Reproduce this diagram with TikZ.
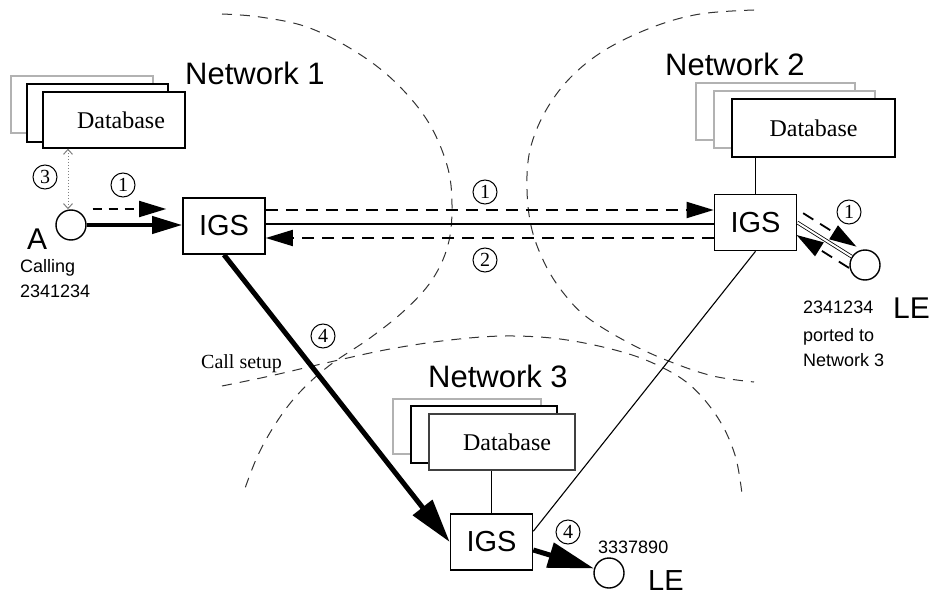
\documentclass[tikz,border=0pt]{standalone}
\usepackage{fontspec}
\setmainfont{Liberation Sans}
\newfontfamily\dbfont{Liberation Serif}
\usetikzlibrary{arrows.meta,calc}
\begin{document}
\begin{tikzpicture}[x=1pt,y=-1pt,
  igs/.style={draw, line width=1.6pt, fill=white, minimum width=82pt, minimum height=56pt, inner sep=0pt, font=\fontsize{29}{29}\selectfont},
  station/.style={circle, draw, line width=1.4pt, fill=white, minimum size=30pt, inner sep=0pt},
  dbbox/.style={draw, line width=1.3pt, fill=white, inner sep=0pt, font=\dbfont\fontsize{24}{24}\selectfont},
  dbback/.style={draw=gray!60, line width=1.3pt, fill=white},
  dbmid/.style={draw=black, line width=1.3pt, fill=white},
  num/.style={circle, draw, line width=1pt, minimum size=24pt, inner sep=0pt, font=\dbfont\fontsize{20}{20}\selectfont},
  netlbl/.style={anchor=base west, inner sep=0pt, font=\fontsize{31}{31}\selectfont},
  small/.style={anchor=base west, inner sep=0pt, font=\fontsize{18}{18}\selectfont},
  big/.style={anchor=base west, inner sep=0pt, font=\fontsize{30}{30}\selectfont},
  boundary/.style={black!80, line width=1pt, dash pattern=on 10pt off 8pt},
  msg/.style={line width=1.8pt, dash pattern=on 12pt off 8pt},
  head/.style={-{Triangle[length=27pt,width=16pt]}},
  link/.style={line width=1.5pt},
  thinlink/.style={line width=1.1pt},
  callpath/.style={line width=5pt, -{Triangle[length=44pt,width=24pt]}}
]
\useasboundingbox (0,0) rectangle (931,596);

% network boundaries
\draw[boundary] plot[smooth, tension=0.6] coordinates {(222,14) (260,17) (307,27) (353,50) (393,80) (427,120) (447,165) (452,205) (448,245) (432,280) (405,310) (370,338) (330,365) (300,392) (278,420) (258,455) (243,494)};
\draw[boundary] plot[smooth, tension=0.6] coordinates {(754,10) (700,14) (653,27) (605,50) (570,78) (545,112) (530,150) (527,190) (532,230) (546,266) (565,295) (588,318) (629,343) (671,362) (713,376) (754,382)};
\draw[boundary] plot[smooth, tension=0.6] coordinates {(222,386) (270,376) (330,362) (390,349) (450,340) (505,336) (560,339) (615,350) (655,364) (690,385) (718,418) (735,455) (742,494)};

% network labels
\node[netlbl] (net1) at (185,85) {Network 1};
\node[netlbl] (net2) at (665,76) {Network 2};
\node[netlbl] (net3) at (428,387) {Network 3};

% databases
\draw[dbback] (11,76) rectangle (153,133);
\draw[dbmid] (27,84) rectangle (168,142);
\node[dbbox, minimum width=142pt, minimum height=56pt] (db1) at (114,120) {\hspace*{14pt}Database};

\draw[dbback] (696,83) rectangle (855,140);
\draw[dbback] (714,91) rectangle (875,148);
\node[dbbox, minimum width=163pt, minimum height=58pt] (db2) at (813.5,128) {Database};

\draw[dbback] (393,399) rectangle (541,454);
\draw[dbmid] (411,406) rectangle (557,463);
\node[dbbox, draw=black!75, minimum width=146pt, minimum height=56pt] (db3) at (502,442) {\hspace*{10pt}Database};

% switches and stations
\node[igs] (IGS1) at (224,226) {IGS};
\node[igs] (IGS2) at (755.5,222.5) {IGS};
\node[igs] (IGS3) at (491.5,542) {IGS};
\node[station] (A) at (71,225) {};
\node[station] (LE2) at (865,265) {};
\node[station] (LE3) at (609,573) {};

% station texts
\node[big] (lblA) at (27,249) {A};
\node[small] (calling) at (20,272) {Calling};
\node[small] (numA) at (20,297) {2341234};
\node[small] (numB) at (803,313) {2341234};
\node[small] (ported) at (803,341) {ported to};
\node[small] (portnet) at (803,366) {Network 3};
\node[big] (le2lbl) at (893,318) {LE};
\node[big, font=\fontsize{29}{29}\selectfont] (le3lbl) at (648,590) {LE};
\node[small] (numC) at (598,553) {3337890};
\node[anchor=base west, inner sep=0pt, font=\dbfont\fontsize{20}{20}\selectfont] (setup) at (201,368) {Call setup};

% connectors
\draw[gray, line width=1pt, dash pattern=on 1.5pt off 1.5pt, {Straight Barb[length=5pt,width=9pt]}-{Straight Barb[length=5pt,width=9pt]}] ([xshift=-3pt]A.north |- db1.south) -- ([xshift=-3pt]A.north);
\draw[msg, head, dash pattern=on 9pt off 7pt] ([xshift=6pt,yshift=16pt]A.east) -- ([xshift=-16pt,yshift=17pt]IGS1.west);
\draw[line width=4pt, -{Triangle[length=30pt,width=17pt]}] (A.east) -- (A.east -| IGS1.west);

\draw[msg, head] ([yshift=16pt]IGS1.east) -- ([yshift=16pt]IGS1.east -| IGS2.west);
\draw[link] ([yshift=2pt]IGS1.east) -- ([yshift=2pt]IGS1.east -| IGS2.west);
\draw[msg, head] ([yshift=-12pt]IGS1.east -| IGS2.west) -- ([yshift=-12pt]IGS1.east);

\draw[double, double distance=2pt, line width=0.8pt] (IGS2.east) -- (LE2);
\draw[msg, head, shorten >=17pt] ($(IGS2.east)!11pt!90:(LE2)$) -- ($(LE2)!11pt!-90:(IGS2.east)$);
\draw[msg, head, shorten <=12pt, shorten >=6pt] ($(LE2)!11pt!90:(IGS2.east)$) -- ($(IGS2.east)!11pt!-90:(LE2)$);

\draw[thinlink] (IGS2.north) -- (IGS2.north |- db2.south);
\draw[thinlink] (IGS3.north) -- (IGS3.north |- db3.south);
\draw[thinlink] (IGS2.south) -- ([yshift=-18pt]IGS3.north east);

\draw[callpath] (IGS1.south) -- (IGS3.west);
\draw[line width=5pt, -{Triangle[length=46pt,width=25pt]}] ([yshift=-8pt]IGS3.east) -- (LE3);

% step numbers
\node[num] (s3) at (45,177) {3};
\node[num] (s1a) at (123,185) {1};
\node[num] (s1b) at (485,192) {1};
\node[num] (s2) at (485,260) {2};
\node[num] (s1c) at (849,212) {1};
\node[num] (s4a) at (323,336) {4};
\node[num] (s4b) at (568,532) {4};
\end{tikzpicture}
\end{document}
